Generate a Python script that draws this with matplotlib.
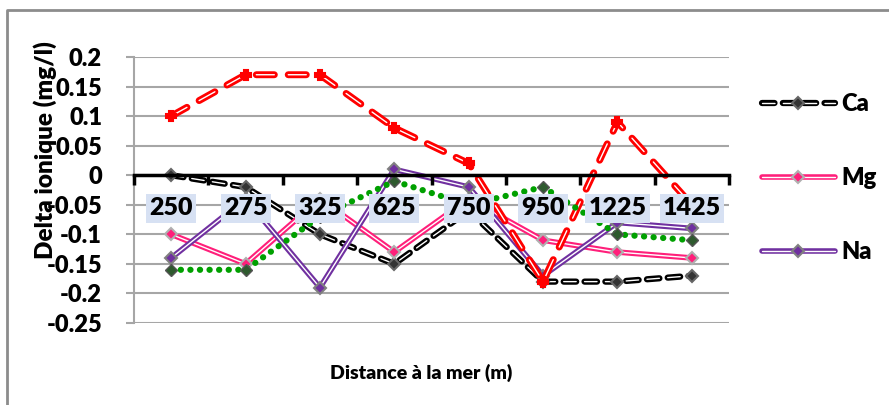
import numpy as np
import matplotlib
matplotlib.use('Agg')
import matplotlib.pyplot as plt
from matplotlib.lines import Line2D

plt.rcParams['font.family'] = ['Lato', 'DejaVu Sans']
plt.rcParams['font.weight'] = 'heavy'
plt.rcParams['lines.scale_dashes'] = False

# distances (categories) and ion deltas
cats = ['250', '275', '325', '625', '750', '950', '1225', '1425']
ca = [0.0, -0.02, -0.10, -0.15, -0.06, -0.18, -0.18, -0.17]
mg = [-0.10, -0.15, -0.04, -0.13, -0.04, -0.11, -0.13, -0.14]
na = [-0.14, -0.04, -0.19, 0.01, -0.02, -0.17, -0.08, -0.09]
s4 = [0.10, 0.17, 0.17, 0.08, 0.02, -0.18, 0.09, -0.05]     # red series (not in legend)
s5 = [-0.16, -0.16, -0.07, -0.01, -0.05, -0.02, -0.10, -0.11]  # green series (not in legend)
yticks = [0.2, 0.15, 0.1, 0.05, 0, -0.05, -0.1, -0.15, -0.2, -0.25]

fig = plt.figure(figsize=(8.89, 4.05), dpi=100)
ax = fig.add_axes([134/889, 1-323/405, (729-134)/889, (323-57)/405])
x = np.arange(len(cats))

def compound(vals, col, lw, dashes, mk, mfc, mec, ms, cap='round'):
    l1, = ax.plot(x, vals, color=col, lw=lw, solid_capstyle=cap, dash_capstyle=cap, zorder=2)
    l2, = ax.plot(x, vals, color='white', lw=1.0, solid_capstyle=cap, dash_capstyle=cap, zorder=2)
    if dashes is not None:
        l1.set_dashes(dashes)
        l2.set_dashes(dashes)
    l3, = ax.plot(x, vals, ls='none', marker=mk, mfc=mfc, mec=mec, ms=ms, mew=1.5, zorder=2)
    return (l1, l2, l3)

h_ca = compound(ca, 'black', 4.5, (9, 6), 'D', '#333333', '#666666', 6)
h_mg = compound(mg, '#ff1f7a', 4.0, None, 'D', '#ff1f7a', '#b0b0b0', 6)
h_na = compound(na, '#7030a0', 4.0, None, 'D', '#7030a0', '#808080', 6)
compound(s4, '#ff0000', 5, (13, 10), 'P', '#ff0000', '#ff0000', 7)
g, = ax.plot(x, s5, color='#00a000', lw=4.5, dash_capstyle='round', zorder=2)
g.set_dashes((0.1, 6.8))
ax.plot(x, s5, ls='none', marker='D', mfc='#2e5a2e', mec='#555555', ms=6, zorder=2)

ax.set_xlim(-0.5, len(cats)-0.5)
ax.set_ylim(-0.25, 0.2)
ax.set_yticks(yticks)
ax.set_yticklabels([f'{v:g}' for v in yticks])
ax.set_axisbelow(True)
ax.yaxis.grid(True, color='#a6a6a6', lw=1.5)
ax.xaxis.set_zorder(3)

for s in ['top', 'right']:
    ax.spines[s].set_visible(False)
ax.spines['left'].set_color('#a6a6a6')
ax.spines['left'].set_linewidth(1.5)
ax.spines['bottom'].set_position(('data', 0))
ax.spines['bottom'].set_linewidth(2.5)
ax.spines['bottom'].set_zorder(2.6)

ax.tick_params(axis='y', colors='#a6a6a6', labelcolor='black', length=6, width=1.5, labelsize=17, pad=17)
ax.set_xticks(np.arange(len(cats)+1)-0.5)
ax.set_xticklabels([])
ax.set_xticks(x, minor=True)
ax.set_xticklabels(cats, minor=True)
ax.tick_params(axis='x', which='major', direction='out', length=7, width=2.5, color='black')
ax.tick_params(axis='x', which='minor', length=0, labelsize=18, pad=16)
for lbl in ax.get_xticklabels(minor=True):
    lbl.set_bbox(dict(boxstyle='square,pad=0.13', fc='#d7e1f3', ec='none'))

fig.text(45/889, 1-150/405, 'Delta ionique (mg/l)', rotation=90, ha='center', va='center', fontsize=17.5)
fig.text(421/889, 1-373/405, 'Distance à la mer (m)', ha='center', va='center', fontsize=14)

fig.legend([h_ca, h_mg, h_na], ['Ca', 'Mg', 'Na'], loc='center left',
           bbox_to_anchor=(750/889, 1-178/405), frameon=False, fontsize=17,
           handlelength=3.1, handletextpad=0.25, labelspacing=2.2, borderpad=0)

fig.add_artist(Line2D([6.5/889, 6.5/889, 1], [0, 1-10/405, 1-10/405], transform=fig.transFigure,
                      color='#8c8c8c', lw=2))

plt.savefig('out.png', dpi=100, facecolor='w')
